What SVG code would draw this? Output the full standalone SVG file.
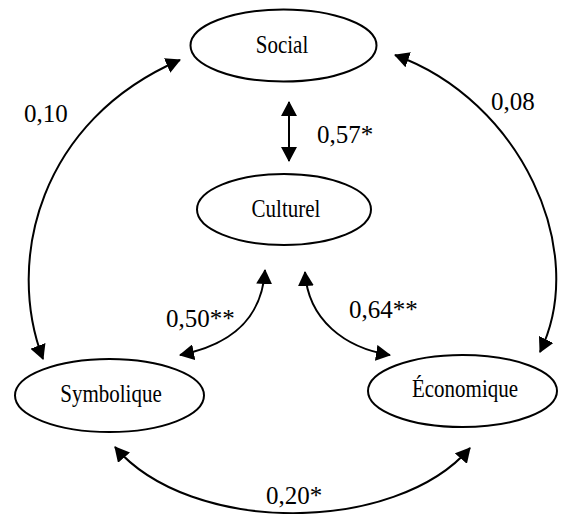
<svg xmlns="http://www.w3.org/2000/svg" width="561" height="514" viewBox="0 0 561 514">
<style>
.node{fill:#fff;stroke:#000;stroke-width:2}
.nl{font-family:"Liberation Serif","Times New Roman",serif;font-size:21px;text-anchor:middle;fill:#000}
.el{font-family:"Liberation Serif","Times New Roman",serif;font-size:25px;fill:#000}
.c{fill:none;stroke:#000;stroke-width:2;marker-start:url(#ah);marker-end:url(#ah)}
</style>
<defs>
<marker id="ah" markerUnits="userSpaceOnUse" markerWidth="15" markerHeight="16" refX="14" refY="8" orient="auto-start-reverse" viewBox="0 0 15 16">
<path d="M0,0 L15,8 L0,16 z" fill="#000"/>
</marker>
</defs>
<rect width="561" height="514" fill="#fff"/>
<g id="connectors">
<path class="c" d="M289,102 L289,161"/>
<path class="c" d="M180,60 C40,120 5,260 43,359"/>
<path class="c" d="M395,55 C520,100 590,250 540,352"/>
<path class="c" d="M265,270 C262,320 230,345 180,355"/>
<path class="c" d="M305,272 C308,320 345,348 390,355"/>
<path class="c" d="M115,447 C190,535 395,535 470,448"/>
</g>
<g id="labels">
<text class="el" x="317" y="143" transform="translate(0,143) scale(1,1.04) translate(0,-143)">0,57*</text>
<text class="el" x="24" y="122" transform="translate(0,122) scale(1,1.04) translate(0,-122)">0,10</text>
<text class="el" x="491" y="110" transform="translate(0,110) scale(1,1.04) translate(0,-110)">0,08</text>
<text class="el" x="166" y="327" transform="translate(0,327) scale(1,1.04) translate(0,-327)">0,50**</text>
<text class="el" x="349" y="318" transform="translate(0,318) scale(1,1.04) translate(0,-318)">0,64**</text>
<text class="el" x="266" y="504" transform="translate(0,504) scale(1,1.04) translate(0,-504)">0,20*</text>
</g>
<g id="social">
<ellipse class="node" cx="283.5" cy="45.5" rx="93" ry="36"/>
<text class="nl" transform="translate(282,53) scale(1,1.2)">Social</text>
</g>
<g id="culturel">
<ellipse class="node" cx="284" cy="209.5" rx="87" ry="35.5"/>
<text class="nl" transform="translate(286,217) scale(1,1.2)">Culturel</text>
</g>
<g id="symbolique">
<ellipse class="node" cx="109.5" cy="395.5" rx="94.5" ry="36.5"/>
<text class="nl" transform="translate(111,402) scale(1,1.2)">Symbolique</text>
</g>
<g id="economique">
<ellipse class="node" cx="462.5" cy="391" rx="94.5" ry="36"/>
<text class="nl" transform="translate(465,397) scale(1,1.2)">Économique</text>
</g>
</svg>
